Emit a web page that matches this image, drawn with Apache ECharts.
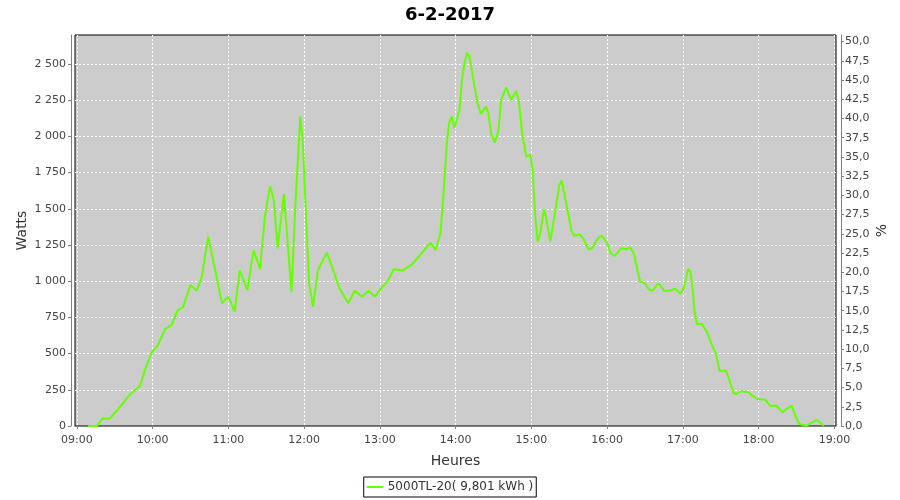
<!DOCTYPE html>
<html><head><meta charset="utf-8">
<script src="https://cdn.jsdelivr.net/npm/echarts@6/dist/echarts.min.js"></script>
<style>html,body{margin:0;padding:0;background:#fff}#c{width:900px;height:500px}</style>
</head><body><div id="c"></div>
<script>
const chartTitle = '6-2-2017';
const seriesName = '5000TL-20( 9,801 kWh )';
const times = ['09:09','09:16','09:20','09:26','09:33','09:43','09:50','09:54','09:59','10:04','10:10','10:15','10:20','10:24','10:30','10:35','10:39','10:44','10:45','10:49','10:55','11:00','11:05','11:09','11:15','11:20','11:25','11:29','11:33','11:36','11:39','11:44','11:47','11:50','11:53','11:57','11:59','12:02','12:04','12:07','12:11','12:18','12:23','12:28','12:35','12:40','12:46','12:51','12:56','13:01','13:06','13:11','13:18','13:25','13:32','13:40','13:44','13:48','13:50','13:53','13:55','13:57','13:59','14:03','14:05','14:07','14:09','14:11','14:14','14:17','14:20','14:24','14:26','14:28','14:31','14:34','14:36','14:40','14:44','14:48','14:50','14:53','14:56','14:59','15:01','15:03','15:05','15:07','15:10','15:12','15:15','15:16','15:19','15:22','15:24','15:26','15:29','15:32','15:34','15:38','15:41','15:45','15:48','15:53','15:56','16:00','16:03','16:06','16:11','16:15','16:18','16:21','16:24','16:26','16:30','16:33','16:36','16:40','16:42','16:45','16:49','16:54','16:58','17:01','17:04','17:06','17:08','17:09','17:11','17:15','17:19','17:23','17:26','17:29','17:34','17:36','17:40','17:42','17:46','17:52','17:55','17:59','18:05','18:09','18:14','18:19','18:23','18:26','18:29','18:32','18:38','18:40','18:46','18:50','18:51'];
const watts = [0,0,50,50,120,226,276,387,504,555,670,697,801,817,974,934,1031,1307,1312,1100,847,893,789,1077,939,1215,1082,1450,1657,1561,1227,1602,1262,927,1515,2136,1954,1354,985,824,1077,1197,1077,951,847,934,893,934,893,951,997,1082,1073,1112,1181,1266,1215,1331,1561,1952,2101,2136,2056,2182,2390,2505,2578,2550,2390,2240,2155,2205,2160,2021,1957,2044,2251,2339,2251,2316,2240,1998,1860,1872,1768,1446,1273,1331,1496,1423,1273,1285,1492,1664,1694,1607,1469,1342,1314,1324,1296,1220,1227,1301,1312,1262,1188,1174,1227,1220,1234,1193,1077,997,985,944,934,981,974,934,934,948,912,962,1084,1066,916,801,704,704,650,559,502,382,382,338,228,221,240,233,209,186,182,140,140,95,124,140,71,14,0,14,41,14,0];
const hourTicks = [9,10,11,12,13,14,15,16,17,18,19];
const wattTicks = [0,250,500,750,1000,1250,1500,1750,2000,2250,2500];
const pctTicks = [0,2.5,5,7.5,10,12.5,15,17.5,20,22.5,25,27.5,30,32.5,35,37.5,40,42.5,45,47.5,50];

function toHours(s){const p=s.split(':');return +p[0]+(+p[1])/60;}
const data = times.map((t,i)=>[toHours(t), watts[i]]);

const labelStyle = {color:'#444', fontSize:11, fontFamily:'DejaVu Sans'};
const nameStyle = {color:'#333', fontSize:14, fontFamily:'DejaVu Sans'};
const axisLineStyle = {lineStyle:{color:'#808080', width:1}};
const gridLine = {show:true, lineStyle:{color:'#ffffff', type:[2,2], width:1}};

const chart = echarts.init(document.getElementById('c'), null, {renderer:'canvas'});
chart.setOption({
  animation:false,
  backgroundColor:'#ffffff',
  title:{text:chartTitle, left:'center', top:1, textStyle:{fontSize:18, fontWeight:'bold', color:'#000', fontFamily:'DejaVu Sans'}},
  grid:{left:75, right:64, top:35, bottom:74, show:true, backgroundColor:'#cccccc', borderColor:'#000', borderWidth:1},
  legend:{show:true, bottom:3, left:'center', data:[{name:seriesName, icon:'rect'}], itemWidth:16, itemHeight:2, itemGap:6,
    borderColor:'#000', borderWidth:1, padding:[4,3,4,3], textStyle:{color:'#333', fontSize:12, fontFamily:'DejaVu Sans'}},
  xAxis:{type:'value', min:8.976, max:19.02, offset:4,
    name:'Heures', nameLocation:'middle', nameGap:24, nameMoveOverlap:false, nameTextStyle:nameStyle,
    axisLine:axisLineStyle, axisTick:{show:true, length:3, customValues:hourTicks, lineStyle:{color:'#808080'}},
    axisLabel:Object.assign({customValues:hourTicks, margin:5, formatter:v=>(v<10?'0':'')+v+':00'}, labelStyle),
    splitLine:gridLine},
  yAxis:[
    {type:'value', min:0, max:2700, offset:4, position:'left',
      name:'Watts', nameLocation:'middle', nameGap:42, nameMoveOverlap:false, nameTextStyle:nameStyle,
      axisLine:Object.assign({show:true}, axisLineStyle), axisTick:{show:true, length:3, customValues:wattTicks, lineStyle:{color:'#808080'}},
      axisLabel:Object.assign({customValues:wattTicks, margin:5, formatter:v=>String(v).replace(/\B(?=(\d{3})+(?!\d))/g,' ')}, labelStyle),
      splitLine:gridLine},
    {type:'value', min:0, max:50.85, offset:5, position:'right',
      name:'%', nameLocation:'middle', nameGap:34, nameMoveOverlap:false, nameTextStyle:nameStyle,
      axisLine:Object.assign({show:true}, axisLineStyle), axisTick:{show:true, length:3, customValues:pctTicks, lineStyle:{color:'#808080'}},
      axisLabel:Object.assign({customValues:pctTicks, margin:4, formatter:v=>v.toFixed(1).replace('.',',')}, labelStyle),
      splitLine:{show:false}}
  ],
  series:[{name:seriesName, type:'line', data:data, showSymbol:false, symbol:'none', yAxisIndex:0,
    lineStyle:{color:'#66ff00', width:2}, itemStyle:{color:'#66ff00'}}]
});
</script></body></html>
